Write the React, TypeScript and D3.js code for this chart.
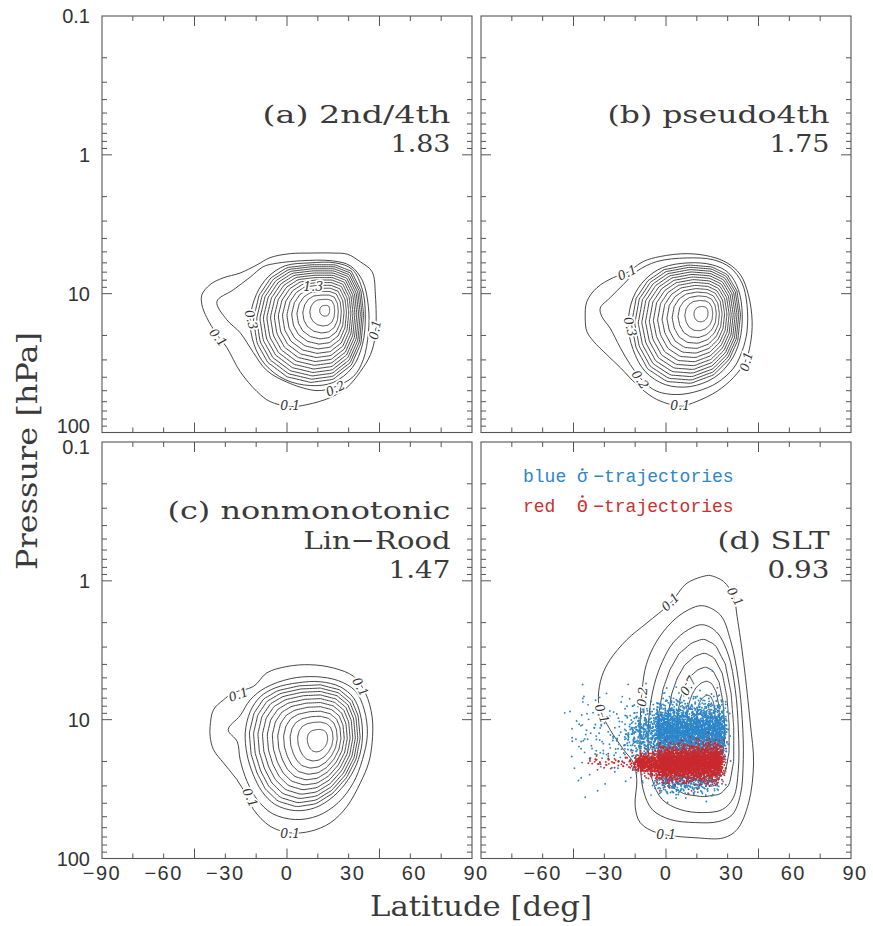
import React from 'react';
import * as d3 from 'd3';

type Pt = [number, number];

// ---------------- axes ----------------
const latTicks = [-90, -75, -60, -45, -30, -15, 0, 15, 30, 45, 60, 75, 90];
const latMajorTicks = [-90, -45, 0, 45, 90];
const latTickLabelsC = [-90, -60, -30, 0, 30, 60, 90];
const latTickLabelsD = [-60, -30, 0, 30, 60, 90];
const pressureDecades = [0.1, 1, 10, 100];
const pressureMinorMultipliers = [2, 3, 4, 5, 6, 7, 8, 9];
const pressureTickLabels = ['0.1', '1', '10', '100'];

// ---------------- panels ----------------
const panelTitles = [
  ['(a) 2nd/4th', '1.83'],
  ['(b) pseudo4th', '1.75'],
  ['(c) nonmonotonic', 'Lin\u2212Rood', '1.47'],
  ['(d) SLT', '0.93'],
];
const peakValues = [1.83, 1.75, 1.47, 0.93];
// [latitude, pressure hPa] of the maximum
const peakCenters: Pt[] = [[19.1, 13.0], [18.1, 13.7], [16.2, 13.9], [21, 9]];
const innerProfileExponent = [0.62, 0.62, 0.62, 1.0];

// outer contours: [latitude, pressure]
const contourA01: Pt[] = [[-41.4, 10.2], [-37.4, 8.6], [-31.1, 7.7], [-22.8, 7.1], [-14.6, 6.2], [-8.2, 5.5], [1.6, 5.15], [11.3, 5.1], [22.5, 5.1], [29.4, 5.2], [35.7, 5.9], [41.4, 6.95], [43, 10.2], [43, 19.7], [40.6, 27.5], [35.7, 36.4], [29.2, 47.4], [21.1, 56], [9.7, 63], [1.6, 65], [-8.2, 59.9], [-14.6, 50.7], [-22.8, 36.4], [-29.3, 24.4], [-34.1, 19.7], [-39, 14.9], [-41.4, 12]];
const contourA02: Pt[] = [[-34.1, 11.4], [-26.2, 9.4], [-17.9, 7.6], [-11.6, 6.4], [-6.7, 6.1], [6.5, 5.8], [22, 5.8], [30.8, 6.3], [36.7, 8.05], [39.6, 12.4], [39.6, 19.1], [37.1, 29.9], [32.3, 39.5], [22.5, 47.4], [14.6, 49.9], [1.6, 44.4], [-9.8, 35.8], [-16.4, 26.5], [-22.8, 19.1], [-29.3, 15.4]];
const contourA03: Pt[] = [[-17.9, 15.4], [-15, 10.2], [-9.1, 7.55], [-0.9, 6.3], [11.3, 6.0], [23.5, 6.0], [31.8, 6.7], [36.7, 9.4], [38.1, 14.2], [36.7, 23.3], [31.8, 34], [22.5, 43.6], [11.3, 45.9], [-0.9, 41.6], [-10.6, 32.4], [-16, 23.3]];

const contourB01: Pt[] = [[-39.3, 15.0], [-38.5, 11.4], [-33.6, 9.06], [-25.7, 7.67], [-19, 7.06], [-11.1, 5.87], [-2.8, 5.4], [10.2, 5.15], [21.6, 5.4], [29.7, 6.0], [36.2, 7.3], [40.1, 10.2], [41.9, 15.8], [41, 23.3], [38.6, 30.7], [32.8, 40.2], [24.8, 50.5], [15.1, 59.6], [6.9, 64.7], [0.5, 61.8], [-6.2, 56], [-14.2, 45.2], [-22.3, 34], [-28.8, 27.5], [-35.3, 22], [-38.5, 18.7]];
const contourB02: Pt[] = [[-32, 12.7], [-27.2, 10.7], [-20.8, 8.6], [-14.2, 6.9], [-4.4, 5.87], [10.2, 5.53], [23, 5.7], [31.3, 6.5], [37, 8.4], [39.4, 12], [39.4, 18.7], [37, 26], [32.9, 34.3], [24.8, 43.9], [15.1, 50.5], [5.3, 53.3], [-4.4, 50.5], [-11.1, 42.7], [-17.4, 32.4], [-22.3, 24.4], [-27.2, 17.7], [-31.2, 14.6]];
const contourB03: Pt[] = [[-18.4, 16.7], [-16, 10.7], [-10.1, 7.9], [-1.8, 6.5], [10.8, 6.0], [22.5, 6.2], [30.3, 7.06], [35.2, 9.35], [37.1, 14.2], [35.7, 22.1], [31.3, 30.8], [23.5, 40.2], [11.8, 46.7], [-0.4, 45.2], [-10.1, 36.4], [-16, 25.3]];

const contourC01: Pt[] = [[-37.4, 11.2], [-35.8, 8.5], [-30.9, 7.2], [-26, 6.4], [-16.3, 5.76], [-9.8, 4.6], [0, 4.14], [11.3, 4.02], [22.7, 4.25], [32.4, 4.88], [38.1, 6.4], [41.4, 9.5], [41.4, 14.7], [39.7, 20.5], [35.7, 28.5], [29.2, 42.1], [21.1, 55.3], [11.3, 63.7], [1.6, 65.3], [-8.2, 58.6], [-16.3, 44.4], [-19.5, 35.6], [-24.4, 27], [-30.9, 20.5], [-35.8, 16.4], [-37.4, 13.2]];
const contourC02: Pt[] = [[-28.6, 11.8], [-22.8, 9.35], [-17.9, 7.2], [-10.6, 5.9], [1.6, 5.07], [13.8, 4.9], [25, 5.24], [33.2, 6.2], [37.6, 8.5], [39.1, 12.8], [36.7, 19.4], [32.3, 28.4], [25, 39.5], [15.2, 49.1], [4, 52.4], [-7.2, 47.4], [-14.5, 37.6], [-19.4, 27.9], [-22.8, 19.4], [-24.2, 14.4]];
const contourC03: Pt[] = [[-20.3, 12.4], [-17.9, 8.75], [-13, 6.84], [-5.7, 5.9], [5.5, 5.42], [16.2, 5.33], [25.9, 5.8], [32.3, 6.95], [35.7, 9.2], [36.7, 13.5], [34.7, 19.4], [29.8, 27], [22.5, 35.8], [13.8, 43], [4, 45.2], [-5.7, 40.9], [-12.1, 33], [-16.4, 24.9], [-19.4, 17.9]];

const contourD01: Pt[] = [[19.9, 0.916], [10.2, 1.04], [2.1, 1.45], [-9.3, 2.01], [-19, 2.65], [-27.2, 3.7], [-31.2, 4.88], [-32.9, 6.8], [-32, 8.5], [-27.2, 11.8], [-20.7, 16.4], [-15.8, 20.5], [-14.2, 27], [-15, 42.1], [-12.5, 55.3], [-4.4, 65.3], [15.1, 71], [28, 71], [34.6, 61.8], [40.2, 39.7], [42.6, 20.5], [41, 10.6], [37.8, 3.9], [34.6, 1.81], [32.9, 1.30], [28, 1.01], [21.6, 0.916]];
const contourD02: Pt[] = [[17.7, 1.51], [10.8, 1.62], [3, 1.97], [-4.7, 2.75], [-9.6, 4.02], [-11.6, 6.08], [-12.5, 10], [-12.5, 19.4], [-11.1, 31.9], [-6.7, 44.4], [2.1, 52.4], [14.2, 55.1], [25.5, 54.2], [32.3, 48.2], [36.2, 34.7], [37.6, 19.4], [37.1, 10], [35.2, 5.15], [31.3, 2.65], [26.4, 1.76]];
const contourD03: Pt[] = [[17.7, 2.07], [10.8, 2.25], [3.5, 2.79], [-1.8, 3.83], [-5.7, 5.6], [-8.2, 9.2], [-8.6, 16.4], [-6.7, 27], [-1.8, 37.6], [6.9, 44.4], [17.7, 46.7], [27.4, 44.4], [32.8, 36.4], [35.2, 22.9], [35.2, 11.8], [33.7, 6.08], [30.3, 3.4], [24.5, 2.33]];

const panelContours: Pt[][][] = [
  [contourA01, contourA02, contourA03],
  [contourB01, contourB02, contourB03],
  [contourC01, contourC02, contourC03],
  [contourD01, contourD02, contourD03],
];

// contour labels: [panel, text, latitude, pressure, angle]
const contourLabels: [number, string, number, number, number][] = [
  [0, '0.1', -33.5, 20.7, 50], [0, '0.1', 1.6, 64, 0], [0, '0.1', 42.8, 18.2, -80],
  [0, '0.3', -17.4, 15.4, 75], [0, '0.2', 23.5, 48.2, -25], [0, '1.3', 12.8, 8.9, 0],
  [1, '0.1', -18.9, 7.06, -25], [1, '0.3', -17.4, 17.3, 75], [1, '0.2', -12.5, 41.6, 55],
  [1, '0.1', 6.9, 64, 0], [1, '0.1', 39.1, 30.8, -75],
  [2, '0.1', -23.7, 6.6, -20], [2, '0.1', 35.7, 5.8, 60], [2, '0.1', -17.9, 36.4, 65], [2, '0.1', 1.6, 66, 0],
  [3, '0.1', 2.1, 1.42, -45], [3, '0.1', 33.7, 1.30, 60], [3, '0.1', -31.1, 9.06, 70],
  [3, '0.2', -11.6, 6.84, -85], [3, '0.7', 10.8, 5.7, -60], [3, '0.1', 0.1, 67, 0],
];

// trajectory clouds (panel d): [lat start, lat end, p at start, p at end, spread(dec) start, spread end, lat jitter, count]
const blueClouds: number[][] = [
  [-4, 28.5, 12.3, 12.3, 0.105, 0.105, 1.2, 2400],
  [-16, -3, 13, 12.5, 0.11, 0.10, 3.5, 420],
  [-3, 24, 28, 27, 0.05, 0.05, 3, 420],
  [-45, -14, 13, 14, 0.17, 0.15, 3, 130],
];
const redClouds: number[][] = [
  [-3, 27, 21.0, 20.2, 0.058, 0.066, 1.2, 2300],
  [-14, -2, 20.5, 21.0, 0.03, 0.052, 1.5, 450],
  [-37, -13, 20, 20.5, 0.02, 0.03, 1.5, 60],
];
const legendBlue = ['blue', '\u03c3', '\u2212trajectories'];
const legendRed = ['red', '\u0398', '\u2212trajectories'];

// ---------------- layout ----------------
const PW = 370;
const PH = 416.5;
const panelOrigins: Pt[] = [[102, 16], [481, 16], [102, 442], [481, 442]];
const titleWidths = [[188, 60], [222, 60], [283, 147, 62], [112, 62]];
const INK = '#333';

function halton(i: number, b: number) {
  let f = 1, r = 0;
  while (i > 0) { f /= b; r += f * (i % b); i = Math.floor(i / b); }
  return r;
}

function rayRadius(c: Pt, th: number, poly: Pt[]) {
  const dx = Math.cos(th), dy = Math.sin(th);
  let best = 0;
  for (let k = 0; k < poly.length; k++) {
    const a = poly[k], b = poly[(k + 1) % poly.length];
    const ex = b[0] - a[0], ey = b[1] - a[1];
    const den = dx * ey - dy * ex;
    if (Math.abs(den) < 1e-9) continue;
    const ax = a[0] - c[0], ay = a[1] - c[1];
    const t = (ax * ey - ay * ex) / den;
    const u = (ax * dy - ay * dx) / den;
    if (t > 0 && u >= -1e-9 && u <= 1 + 1e-9) best = Math.max(best, t);
  }
  return best;
}

const closedLine = d3.line<Pt>().curve(d3.curveCatmullRomClosed.alpha(0.5));

function cloudPoints(clouds: number[][], xs: any, ys: any, offset: number) {
  const pts: Pt[] = [];
  clouds.forEach((c, ci) => {
    const [l0, l1, p0, p1, s0, s1, jit, n] = c;
    for (let k = 1; k <= n; k++) {
      const i = k + offset + ci * 7919;
      const u1 = halton(i, 2), u2 = Math.max(halton(i, 3), 1e-4), u3 = halton(i, 5);
      const rr = Math.sqrt(-2 * Math.log(u2));
      const n1 = rr * Math.cos(2 * Math.PI * u3), n2 = rr * Math.sin(2 * Math.PI * u3);
      const lat = l0 + u1 * (l1 - l0) + n2 * jit;
      const lp = Math.log10(p0) + u1 * (Math.log10(p1) - Math.log10(p0));
      const sd = s0 + u1 * (s1 - s0);
      const p = Math.pow(10, lp + n1 * sd);
      pts.push([xs(lat), ys(p)]);
    }
  });
  return pts;
}

function Panel({ idx }: { idx: number }) {
  const [x0, y0] = panelOrigins[idx];
  const xs = d3.scaleLinear().domain([-90, 90]).range([x0, x0 + PW]);
  const ys = d3.scaleLog().domain([0.1, 100]).range([y0, y0 + PH]);

  // contours
  const refs = panelContours[idx].map(r => r.map(([la, p]) => [xs(la), ys(p)] as Pt));
  const c: Pt = [xs(peakCenters[idx][0]), ys(peakCenters[idx][1])];
  const peak = peakValues[idx];
  const gamma = innerProfileExponent[idx];
  const N = 120;
  const base = refs[refs.length - 1];
  const radii = d3.range(N).map(k => rayRadius(c, (2 * Math.PI * k) / N, base));
  const v0 = refs.length / 10;
  const paths: string[] = refs.map(r => closedLine(r) as string);
  for (let k = refs.length + 1; k / 10 < peak - 1e-6; k++) {
    const lv = k / 10;
    const s = Math.pow((peak - lv) / (peak - v0), gamma);
    const pts = radii.map((r, j) => {
      const th = (2 * Math.PI * j) / N;
      return [c[0] + r * s * Math.cos(th), c[1] + r * s * Math.sin(th)] as Pt;
    });
    paths.push(closedLine(pts) as string);
  }

  // ticks
  const ticks: JSX.Element[] = [];
  latTicks.forEach((la, i) => {
    if (la === -90 || la === 90) return;
    const len = latMajorTicks.includes(la) ? 10 : 5;
    const x = xs(la);
    ticks.push(<line key={'xt' + i} x1={x} x2={x} y1={y0} y2={y0 + len} />);
    ticks.push(<line key={'xb' + i} x1={x} x2={x} y1={y0 + PH} y2={y0 + PH - len} />);
  });
  pressureDecades.forEach((d, di) => {
    const vals = [d, ...(d < 100 ? pressureMinorMultipliers.map(m => m * d) : [])];
    vals.forEach((v, vi) => {
      if (v === 0.1 || v === 100) return;
      const len = vi === 0 ? 10 : 5;
      const y = ys(v);
      ticks.push(<line key={`yl${di}-${vi}`} x1={x0} x2={x0 + len} y1={y} y2={y} />);
      ticks.push(<line key={`yr${di}-${vi}`} x1={x0 + PW} x2={x0 + PW - len} y1={y} y2={y} />);
    });
  });

  const titles = panelTitles[idx];
  const widths = titleWidths[idx];
  const right = x0 + 348.5;

  let scatter: JSX.Element | null = null;
  if (idx === 3) {
    const bl = cloudPoints(blueClouds, xs, ys, 11);
    const rd = cloudPoints(redClouds, xs, ys, 50021);
    scatter = (
      <g>
        <g fill="#2c86c9">
          {bl.map((p, i) => <circle key={'b' + i} cx={p[0]} cy={p[1]} r={0.95} />)}
        </g>
        <g fill="#c92a2e">
          {rd.map((p, i) => <circle key={'r' + i} cx={p[0]} cy={p[1]} r={0.95} />)}
        </g>
      </g>
    );
  }

  const cw = 10.8;
  const lx = 523;

  return (
    <g>
      <g fill="none" stroke="#333" strokeWidth={0.9}>
        {paths.map((d, i) => <path key={i} d={d} />)}
      </g>
      {scatter}
      <g fontFamily="'DejaVu Serif', serif" fontStyle="italic" fontSize={12.5} fill={INK}
        stroke="#fff" strokeWidth={3.5} paintOrder="stroke" textAnchor="middle">
        {contourLabels.filter(l => l[0] === idx).map((l, i) => (
          <text key={i} transform={`translate(${xs(l[2])},${ys(l[3])}) rotate(${l[4]})`} dy="0.35em">{l[1]}</text>
        ))}
      </g>
      <g stroke="#555" strokeWidth={1}>{ticks}</g>
      <rect x={x0} y={y0} width={PW} height={PH} fill="none" stroke="#555" strokeWidth={1.1} />
      <g fontFamily="'DejaVu Serif', serif" fontSize={25} fill="#3a3a3a">
        {titles.map((t, j) => (
          <text key={j} x={right - widths[j]} y={y0 + 136 - (titles.length - 1 - j) * 29.5}
            textLength={widths[j]} lengthAdjust="spacingAndGlyphs">{t}</text>
        ))}
      </g>
      {idx === 3 && (
        <g fontFamily="'Liberation Mono', 'DejaVu Sans Mono', monospace" fontSize={18}>
          <g fill="#2c86c9">
            <text x={lx} y={481.5}>{legendBlue[0]}</text>
            <text x={lx + 5 * cw} y={481.5}>{legendBlue[1]}</text>
            <circle cx={lx + 5.5 * cw} cy={469.5} r={1.3} />
            <text x={lx + 6.5 * cw} y={481.5}>{legendBlue[2]}</text>
          </g>
          <g fill="#c9302f">
            <text x={lx} y={511.5}>{legendRed[0]}</text>
            <text x={lx + 5 * cw} y={511.5}>{legendRed[1]}</text>
            <circle cx={lx + 5.5 * cw} cy={496.5} r={1.3} />
            <text x={lx + 6.5 * cw} y={511.5}>{legendRed[2]}</text>
          </g>
        </g>
      )}
      {(idx === 0 || idx === 2) && (
        <g fontFamily="'Liberation Sans', Arial, sans-serif" fontSize={20} fill={INK} textAnchor="end">
          {pressureDecades.map((d, i) => {
            let y = ys(d);
            if (idx === 0 && d === 100) y -= 7;
            if (idx === 2 && d === 0.1) y += 5;
            return <text key={i} x={x0 - 12} y={y} dy="0.36em">{pressureTickLabels[i]}</text>;
          })}
        </g>
      )}
      {(idx === 2 || idx === 3) && (
        <g fontFamily="'Liberation Sans', Arial, sans-serif" fontSize={20} fill={INK} textAnchor="middle" letterSpacing={1.5}>
          {(idx === 2 ? latTickLabelsC : latTickLabelsD).map((la, i) => (
            <text key={i} x={xs(la) + (la > 0 ? 4 : 0)} y={880}>{la < 0 ? '\u2212' + Math.abs(la) : String(la)}</text>
          ))}
        </g>
      )}
    </g>
  );
}

export default function App() {
  return (
    <svg width={873} height={926} style={{ position: 'absolute', left: 0, top: 0, background: '#fff' }}>
      <rect x={0} y={0} width={873} height={926} fill="#fff" />
      {[0, 1, 2, 3].map(i => <Panel key={i} idx={i} />)}
      <text x={370} y={916} fontFamily="'DejaVu Serif', serif" fontSize={28} fill="#3a3a3a"
        textLength={222} lengthAdjust="spacingAndGlyphs">Latitude [deg]</text>
      <text transform="translate(37,570) rotate(-90)" fontFamily="'DejaVu Serif', serif" fontSize={28} fill="#3a3a3a"
        textLength={238} lengthAdjust="spacingAndGlyphs">Pressure [hPa]</text>
    </svg>
  );
}
